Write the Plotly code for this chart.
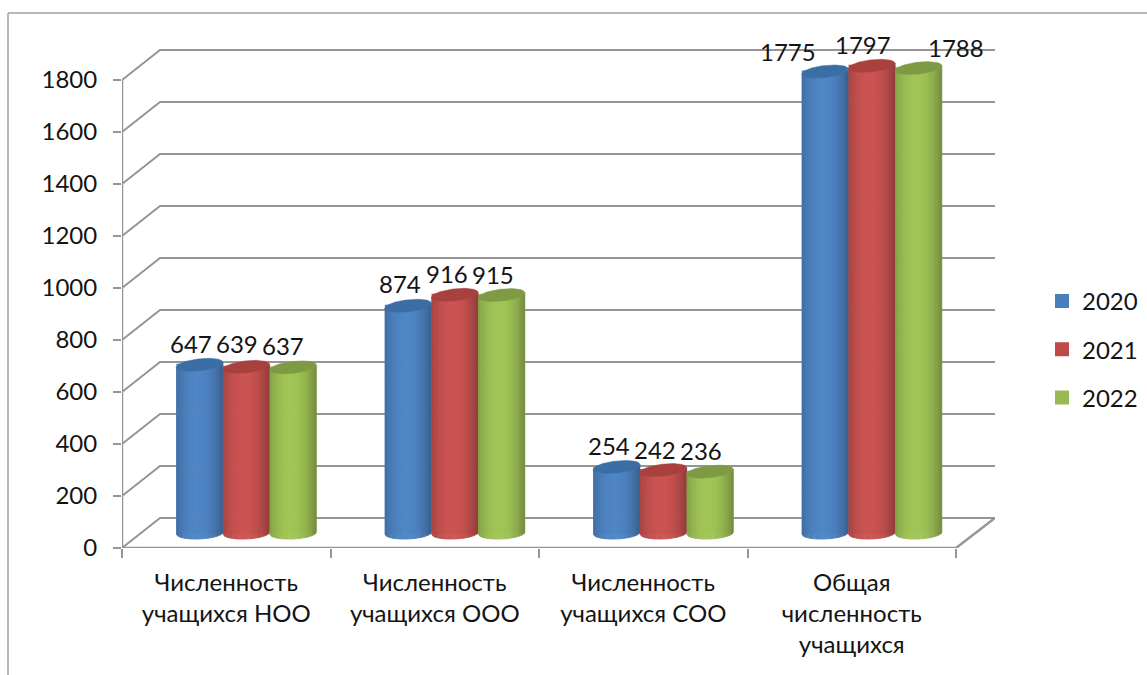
import plotly.graph_objects as go

categories = ["Численность<br>учащихся НОО", "Численность<br>учащихся ООО",
              "Численность<br>учащихся СОО", "Общая<br>численность<br>учащихся"]
years = ["2020", "2021", "2022"]
v2020 = [647, 874, 254, 1775]
v2021 = [639, 916, 242, 1797]
v2022 = [637, 915, 236, 1788]
y_ticks = [0, 200, 400, 600, 800, 1000, 1200, 1400, 1600, 1800]
series = [v2020, v2021, v2022]
legend_colors = ["#4A7EBB", "#BE4B48", "#98B954"]
base_colors = ["#4F86C6", "#CB5452", "#A2C557"]
cap_colors = ["#3C6EA6", "#A8403E", "#7F9A45"]

W, H = 1147, 675
L, R, T, B = 122, 995, 20, 548
PX_X = 208.5
PX_Y = 0.26
xmin = -0.5
xfront = 3.5
xmax = xmin + (R - L) / PX_X
ymax = (B - T) / PX_Y
back_dx = 38 / PX_X
back_dy = 30 / PX_Y
base_v = 15 / PX_Y
cyl_w = 46.7 / PX_X
group_dx = 20 / PX_X
ell = 6 / PX_Y
tilt_top = 2.5 / PX_Y
tilt_low = 1.0 / PX_Y
N = 20
GRID = "#969696"
FONT = "Lato, 'Noto Sans', sans-serif"
FS = 24
INK = "#141414"


def shade(hexc, t):
    f = 1.0 - 0.30 * abs((t + 0.1) / 1.1) ** 2.2
    c = [int(hexc[i:i + 2], 16) for i in (1, 3, 5)]
    return "rgb(%d,%d,%d)" % tuple(min(255, int(round(x * f))) for x in c)


fig = go.Figure()

for j, y in enumerate(years):
    fig.add_trace(go.Bar(
        x=[i + group_dx + (j - 1) * cyl_w for i in range(4)],
        y=series[j], base=base_v, width=cyl_w * 0.95, name=y,
        marker=dict(color=legend_colors[j], line=dict(width=2, color=legend_colors[j])),
        legendgroup=y, hoverinfo="y",
    ))

gx, gy = [], []
for t in y_ticks:
    gx += [xmin, xmin + back_dx, xmax, None]
    gy += [t, t + back_dy, t + back_dy, None]
fig.add_trace(go.Scatter(x=gx, y=gy, mode="lines", line=dict(color=GRID, width=2),
                         showlegend=False, hoverinfo="skip", cliponaxis=False))
fig.add_trace(go.Scatter(
    x=[xmin, xmin, None, xmin, xfront, xmax],
    y=[y_ticks[-1], 0, None, 0, 0, back_dy],
    mode="lines", line=dict(color=GRID, width=2.5),
    showlegend=False, hoverinfo="skip", cliponaxis=False))

for j in range(3):
    for k in range(N):
        a, b = -1 + 2 * k / N, -1 + 2 * (k + 1) / N
        px, py = [], []
        for i in range(4):
            cx = i + group_dx + (j - 1) * cyl_w
            r = cyl_w / 2
            top = series[j][i] + base_v
            ts = [a + (b - a) * q / 4 for q in range(5)]
            low = [base_v + tilt_low * u - ell * (1 - u * u) ** 0.5 for u in ts]
            upp = [top + tilt_top * u - ell * (1 - u * u) ** 0.5 for u in reversed(ts)]
            px += [cx + r * u for u in ts] + [cx + r * u for u in reversed(ts)] + [None]
            py += low + upp + [None]
        col = shade(base_colors[j], (a + b) / 2)
        fig.add_trace(go.Scatter(x=px, y=py, mode="lines", fill="toself", fillcolor=col,
                                 line=dict(color=col, width=0.8),
                                 showlegend=False, hoverinfo="skip"))
    px, py = [], []
    M = 48
    for i in range(4):
        cx = i + group_dx + (j - 1) * cyl_w
        r = cyl_w / 2
        top = series[j][i] + base_v
        for q in range(M + 1):
            u = -1 + 2 * q / M
            px.append(cx + r * u)
            py.append(top + tilt_top * u + ell * (1 - u * u) ** 0.5)
        for q in range(M + 1):
            u = 1 - 2 * q / M
            px.append(cx + r * u)
            py.append(top + tilt_top * u - ell * (1 - u * u) ** 0.5)
        px.append(None)
        py.append(None)
    fig.add_trace(go.Scatter(x=px, y=py, mode="lines", fill="toself", fillcolor=cap_colors[j],
                             line=dict(color=cap_colors[j], width=0.5),
                             showlegend=False, hoverinfo="skip"))

label_shift = {
    (0, 0): (-9, 21), (0, 1): (-9.5, 23), (0, 2): (-10, 22),
    (1, 0): (-8, 22), (1, 1): (-8, 21), (1, 2): (-8.5, 21),
    (2, 0): (-7.5, 21), (2, 1): (-8, 21), (2, 2): (-9, 21),
    (3, 0): (-37, 20.5), (3, 1): (-9, 21), (3, 2): (37.5, 21),
}
annotations = []
for j in range(3):
    for i in range(4):
        sx, sy = label_shift[(i, j)]
        annotations.append(dict(
            x=i + group_dx + (j - 1) * cyl_w, y=series[j][i] + base_v,
            text=str(series[j][i]), showarrow=False, xshift=sx, yshift=sy,
            xanchor="center", yanchor="middle",
            font=dict(family=FONT, size=FS, color=INK)))

span = R - L
sy = B - T
shapes = [
    dict(type="line", xref="paper", yref="paper",
         x0=(8 - L) / span, x1=(W + 5 - L) / span,
         y0=(B - 13) / sy, y1=(B - 13) / sy, line=dict(color="#A0A0A0", width=1.5)),
    dict(type="line", xref="paper", yref="paper",
         x0=(8 - L) / span, x1=(8 - L) / span,
         y0=(B - 13) / sy, y1=(B - H - 5) / sy, line=dict(color="#A0A0A0", width=1.5)),
]

fig.update_layout(
    width=W, height=H, autosize=False,
    margin=dict(l=L, r=W - R, t=T, b=H - B, pad=0),
    paper_bgcolor="white", plot_bgcolor="white",
    barmode="overlay",
    font=dict(family=FONT, size=FS, color=INK),
    xaxis=dict(range=[xmin, xmax], showgrid=False, zeroline=False, showline=False,
               tickmode="array", tickvals=list(range(4)), ticktext=categories,
               ticks="", ticklabelstandoff=18,
               minor=dict(tickmode="array", tickvals=[-0.5, 0.5, 1.5, 2.5, 3.5],
                          ticks="outside", ticklen=9, tickwidth=2, tickcolor=GRID, showgrid=False)),
    yaxis=dict(range=[0, ymax], showgrid=False, zeroline=False, showline=False,
               tickmode="array", tickvals=y_ticks, ticks="outside", ticklen=8, tickwidth=2,
               tickcolor=GRID, ticklabelstandoff=11),
    legend=dict(xref="container", yref="container",
                x=1042 / W, xanchor="left", y=1 - 279 / H, yanchor="top",
                tracegroupgap=14, bgcolor="rgba(0,0,0,0)", borderwidth=0,
                font=dict(family=FONT, size=FS, color=INK)),
    annotations=annotations,
    shapes=shapes,
)

fig.write_html("out.html", config={"displayModeBar": False},
               post_script="document.body.style.margin='0';document.documentElement.style.overflow='hidden';")
